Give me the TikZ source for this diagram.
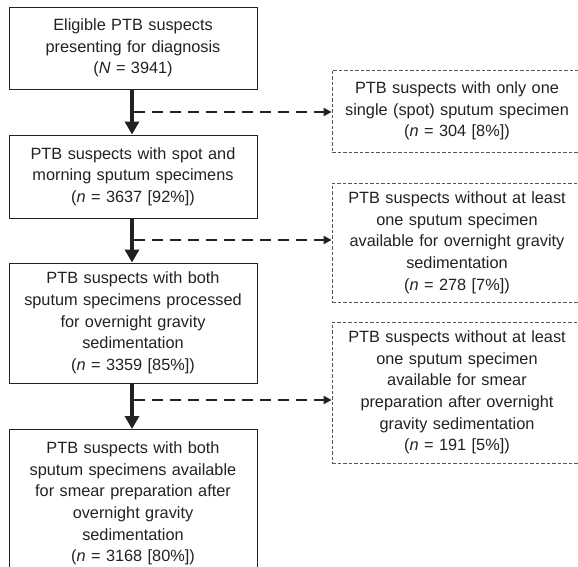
\documentclass[tikz,border=0pt]{standalone}
\usepackage{fontspec}
\setmainfont{Liberation Sans}
\usetikzlibrary{arrows.meta,calc}
\definecolor{ink}{HTML}{222222}
\definecolor{dgray}{HTML}{555555}
\tikzset{
  mainbox/.style={draw=ink, line width=0.9pt, text=ink, align=center, inner sep=0pt,
    minimum width=248pt, text width=240pt,
    font=\fontsize{16.3}{21.7}\selectfont},
  sidebox/.style={draw=dgray, line width=0.8pt, dash pattern=on 3.5pt off 2pt, text=ink, align=center, inner sep=0pt,
    minimum width=250pt, text width=240pt,
    font=\fontsize{16.3}{21.7}\selectfont},
  mainarrow/.style={draw=ink, line width=4.5pt, -{Triangle[length=13pt,width=14pt]}},
  sidearrow/.style={draw=ink, line width=2pt, dash pattern=on 11pt off 7pt, -{Triangle[length=8pt,width=8pt]}},
}
\begin{document}
\begin{tikzpicture}[x=1pt,y=-1pt]
\clip (0,0) rectangle (578,567);
\node[mainbox, minimum height=82pt] (b1) at (133,48)
  {Eligible PTB suspects\\presenting for diagnosis\\(\textit{N} = 3941)};
\node[mainbox, minimum height=83pt] (b2) at (133,176.5)
  {PTB suspects with spot and\\morning sputum specimens\\(\textit{n} = 3637 [92\%])};
\node[mainbox, minimum height=120pt] (b3) at (133,323)
  {PTB suspects with both\\sputum specimens processed\\for overnight gravity\\sedimentation\\(\textit{n} = 3359 [85\%])};
\node[mainbox, minimum height=148pt, anchor=north] (b4) at (133,429)
  {PTB suspects with both\\sputum specimens available\\for smear preparation after\\overnight gravity\\sedimentation\\(\textit{n} = 3168 [80\%])};
\node[sidebox, minimum height=82pt] (r1) at (457,111)
  {PTB suspects with only one\\single (spot) sputum specimen\\(\textit{n} = 304 [8\%])};
\node[sidebox, minimum height=119pt] (r2) at (457,242.5)
  {PTB suspects without at least\\one sputum specimen\\available for overnight gravity\\sedimentation\\(\textit{n} = 278 [7\%])};
\node[sidebox, minimum height=141pt] (r3) at (457,392.5)
  {PTB suspects without at least\\one sputum specimen\\available for smear\\preparation after overnight\\gravity sedimentation\\(\textit{n} = 191 [5\%])};
\coordinate (m1) at (134,112);
\coordinate (m2) at (134,240);
\coordinate (m3) at (134,400);
\draw[mainarrow] (b1.south -| 132,0) -- (b2.north -| 132,0);
\draw[mainarrow] (b2.south -| 132,0) -- (b3.north -| 132,0);
\draw[mainarrow] (b3.south -| 132,0) -- (b4.north -| 132,0);
\draw[sidearrow] (m1) -- (m1 -| r1.west);
\draw[sidearrow] (m2) -- (m2 -| r2.west);
\draw[sidearrow] (m3) -- (m3 -| r3.west);
\end{tikzpicture}
\end{document}
